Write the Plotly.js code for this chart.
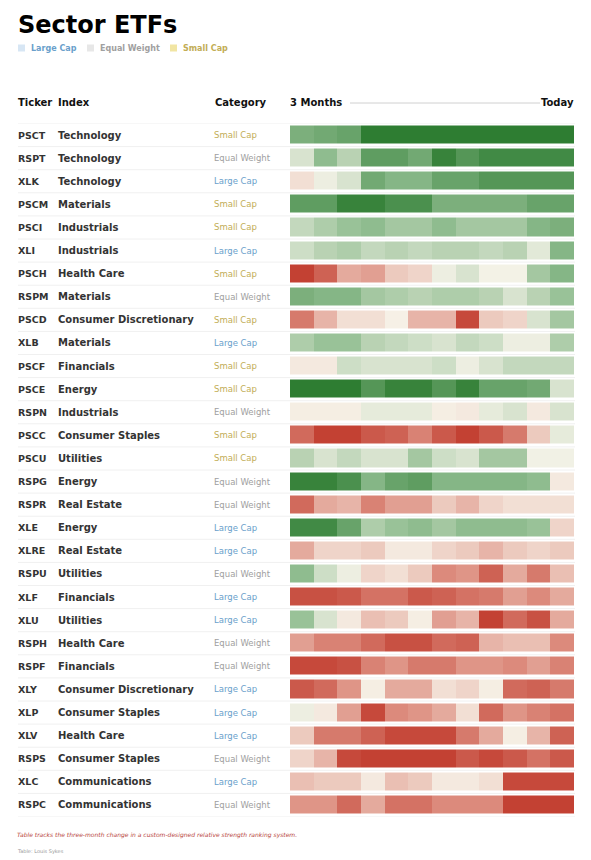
<!DOCTYPE html>
<html>
<head>
<meta charset="utf-8">
<script src="https://cdn.plot.ly/plotly-3.0.1.min.js"></script>
<style>html,body{margin:0;padding:0;background:#fff;}#chart{width:591px;height:860px;}</style>
</head>
<body>
<div id="chart"></div>
<script>
// ---- Data ----
const tickers = ["PSCT","RSPT","XLK","PSCM","PSCI","XLI","PSCH","RSPM","PSCD","XLB","PSCF","PSCE","RSPN","PSCC","PSCU","RSPG","RSPR","XLE","XLRE","RSPU","XLF","XLU","RSPH","RSPF","XLY","XLP","XLV","RSPS","XLC","RSPC"];
const indexNames = ["Technology","Technology","Technology","Materials","Industrials","Industrials","Health Care","Materials","Consumer Discretionary","Materials","Financials","Energy","Industrials","Consumer Staples","Utilities","Energy","Real Estate","Energy","Real Estate","Utilities","Financials","Utilities","Health Care","Financials","Consumer Discretionary","Consumer Staples","Health Care","Consumer Staples","Communications","Communications"];
const categories = ["Small Cap","Equal Weight","Large Cap","Small Cap","Small Cap","Large Cap","Small Cap","Equal Weight","Small Cap","Large Cap","Small Cap","Small Cap","Equal Weight","Small Cap","Small Cap","Equal Weight","Equal Weight","Large Cap","Large Cap","Equal Weight","Large Cap","Large Cap","Equal Weight","Equal Weight","Large Cap","Large Cap","Large Cap","Equal Weight","Large Cap","Equal Weight"];
const weeks = ["W1","W2","W3","W4","W5","W6","W7","W8","W9","W10","W11","W12"];
// relative strength score per week (+10 strongest, -10 weakest)
const scores = [
  [6,6.5,7,10,10,10,10,10,10,10,10,10],
  [1.5,5,3,7.5,7.5,6.5,9.5,8,9,9,9,9],
  [-1,0.5,1.5,6.5,5.5,5.5,7,7,8,8,8,8],
  [7.5,7.5,9.5,9.5,8.5,8.5,6,6,6,6,7,7],
  [2.5,3.5,4.5,5,4,4,5,4,4,4,5.5,6],
  [2,3,3.5,2.5,3,2.5,3,3,2.5,3,1,5.5],
  [-9.5,-7.5,-3.5,-4,-2,-1.5,0.5,1.5,0.2,0.2,4,5.5],
  [6,5.5,5.5,4,3.5,3,3.5,3.5,3,1.5,3,4.5],
  [-6,-3,-1,-1,-0.2,-3,-3,-9,-2,-1.5,1.5,4],
  [3.5,4.5,4.5,3,2.5,2,1.5,2.5,2,0.5,0.5,3.5],
  [-0.5,-0.5,2,1.5,1.5,1.5,2,0.5,1.5,2.5,2.5,2.5],
  [10,10,10,8,9.5,9.5,8,9.5,7,7,6.5,1.5],
  [-0.3,-0.3,-0.3,0.8,0.8,0.8,-0.3,-0.5,0.8,1.5,-0.5,1.5],
  [-7,-9.5,-9.5,-8,-7.5,-5.5,-8,-9.5,-8,-6,-2,0.8],
  [3,1.5,2.5,1.5,1.5,4,2,1.5,4,4,0.3,0.3],
  [9.5,9.5,8.5,5.5,7,7.5,5.5,5.5,5.5,5.5,5,-0.5],
  [-7,-3.5,-3,-5.5,-4,-4,-2,-3,-1.5,-1,-1,-1],
  [9,9,7,3.5,4.5,5,4,5,5,5,4.5,-1.5],
  [-3.5,-1.5,-1.5,-2,-0.5,-0.5,-1.5,-2,-3,-2,-1.5,-2],
  [5,2,0.5,-1.5,-1,-2,-5,-4.5,-7.5,-3.5,-6,-2.5],
  [-8.5,-8.5,-8,-6.5,-6.5,-8,-7.5,-6.5,-6,-4,-5,-3.5],
  [4.5,1.5,-0.5,-2.5,-2,-0.3,-4,-3,-9.5,-7,-8.5,-3.5],
  [-4,-5.5,-5.5,-7,-8.5,-8.5,-7,-7.5,-3,-2.5,-2.5,-5],
  [-9,-9,-8.5,-5.5,-4.5,-6,-6,-4.5,-4.5,-5,-4,-5.5],
  [-8,-7,-4.5,-0.3,-3.5,-3.5,-1,-1.5,-0.3,-7,-7.5,-6],
  [0.5,-0.5,-4,-9,-5,-4.5,-3.5,-1,-7,-4.5,-5.5,-6.5],
  [-2,-6,-6,-7.5,-9,-9,-9,-6,-3.5,-0.3,-3,-7.5],
  [-1.5,-3,-9,-9.5,-9.5,-9.5,-9.5,-8,-9,-8,-6.5,-8],
  [-2.5,-2,-2,-0.5,-2.5,-2,-0.5,-0.5,-1,-9,-9,-9],
  [-4.5,-4.5,-7,-3.5,-6.5,-6.5,-5,-5,-5,-9.5,-9.5,-9.5]
];
const legendItems = ["Large Cap","Equal Weight","Small Cap"];

// ---- Styling ----
const W = 591, H = 860;
const px = x => x / W;
const py = y => 1 - y / H;
const FONT = "DejaVu Sans, sans-serif";
const catColor = {"Large Cap":"#6a9fcb","Equal Weight":"#a0a0a0","Small Cap":"#c2ad55"};
const catSwatch = {"Large Cap":"#d7e6f4","Equal Weight":"#e7e7e7","Small Cap":"#f1e5a3"};
const TX = -2; // annotation text inset compensation

const rowIdx = tickers.map((_, i) => i);

const trace = {
  type: "heatmap",
  z: scores,
  x: weeks,
  y: rowIdx,
  zmin: -10, zmax: 10,
  colorscale: [[0,"#c0392b"],[0.25,"#dc8a7c"],[0.5,"#f7f4ea"],[0.75,"#8fbc8f"],[1,"#2e7d32"]],
  showscale: false,
  xgap: 0, ygap: 5,
  hovertemplate: "%{z}<extra></extra>"
};

const annotations = [];
const shapes = [];

// title & legend
annotations.push({xref:"paper",yref:"paper",x:px(18+TX),y:py(25),xanchor:"left",yanchor:"middle",showarrow:false,
  text:"<b>Sector ETFs</b>",font:{family:FONT,size:24,color:"#000"}});
const legendX = [18, 87, 170];
legendItems.forEach((c, k) => {
  const x0 = legendX[k];
  shapes.push({type:"rect",xref:"paper",yref:"paper",x0:px(x0),x1:px(x0+7),y0:py(51.5),y1:py(44.5),fillcolor:catSwatch[c],line:{width:0}});
  annotations.push({xref:"paper",yref:"paper",x:px(x0+13+TX),y:py(48),xanchor:"left",yanchor:"middle",showarrow:false,
    text:"<b>"+c+"</b>",font:{family:FONT,size:8,color:catColor[c]}});
});

// header
const hdrY = py(102);
[["Ticker",18],["Index",58],["Category",215],["3 Months",290]].forEach(([t,x]) => {
  annotations.push({xref:"paper",yref:"paper",x:px(x+TX),y:hdrY,xanchor:"left",yanchor:"middle",showarrow:false,
    text:"<b>"+t+"</b>",font:{family:FONT,size:10,color:"#111"}});
});
annotations.push({xref:"paper",yref:"paper",x:px(574-TX),y:hdrY,xanchor:"right",yanchor:"middle",showarrow:false,
  text:"<b>Today</b>",font:{family:FONT,size:10,color:"#111"}});
shapes.push({type:"line",xref:"paper",yref:"paper",x0:px(350),x1:px(540),y0:py(103),y1:py(103),line:{color:"#d0d0d0",width:1}});

// rows
tickers.forEach((t, i) => {
  annotations.push({xref:"paper",yref:"y",x:px(18+TX),y:i,xanchor:"left",yanchor:"middle",showarrow:false,
    text:"<b>"+t+"</b>",font:{family:FONT,size:9.5,color:"#333"}});
  annotations.push({xref:"paper",yref:"y",x:px(58+TX),y:i,xanchor:"left",yanchor:"middle",showarrow:false,
    text:"<b>"+indexNames[i]+"</b>",font:{family:FONT,size:10,color:"#333"}});
  annotations.push({xref:"paper",yref:"y",x:px(214+TX),y:i,xanchor:"left",yanchor:"middle",showarrow:false,
    text:categories[i],font:{family:FONT,size:8.5,color:catColor[categories[i]]}});
  shapes.push({type:"line",layer:"below",xref:"paper",yref:"y",x0:px(18),x1:px(575),y0:i-0.5,y1:i-0.5,line:{color:"#f0f0f0",width:1}});
});
shapes.push({type:"line",layer:"below",xref:"paper",yref:"y",x0:px(18),x1:px(575),y0:tickers.length-0.5,y1:tickers.length-0.5,line:{color:"#f0f0f0",width:1}});

// footnotes
annotations.push({xref:"paper",yref:"paper",x:px(17+TX),y:py(835),xanchor:"left",yanchor:"middle",showarrow:false,
  text:"<i>Table tracks the three-month change in a custom-designed relative strength ranking system.</i>",
  font:{family:FONT,size:6,color:"#b8443c"}});
annotations.push({xref:"paper",yref:"paper",x:px(17+TX),y:py(851),xanchor:"left",yanchor:"middle",showarrow:false,
  text:"Table: Louis Sykes",font:{family:FONT,size:5,color:"#999"}});

const layout = {
  width: W, height: H,
  margin: {l:0,r:0,t:0,b:0,pad:0},
  paper_bgcolor: "#fff", plot_bgcolor: "rgba(0,0,0,0)",
  showlegend: false,
  xaxis: {domain:[px(290), px(574)], range:[-0.5, 11.5], showticklabels:false, showgrid:false, zeroline:false, showline:false, ticks:"", fixedrange:true},
  yaxis: {domain:[py(816.5), py(123.5)], range:[tickers.length-0.5, -0.5], showticklabels:false, showgrid:false, zeroline:false, showline:false, ticks:"", fixedrange:true},
  annotations, shapes,
  font: {family: FONT}
};

Plotly.newPlot("chart", [trace], layout, {displayModeBar:false, staticPlot:true});
</script>
</body>
</html>
